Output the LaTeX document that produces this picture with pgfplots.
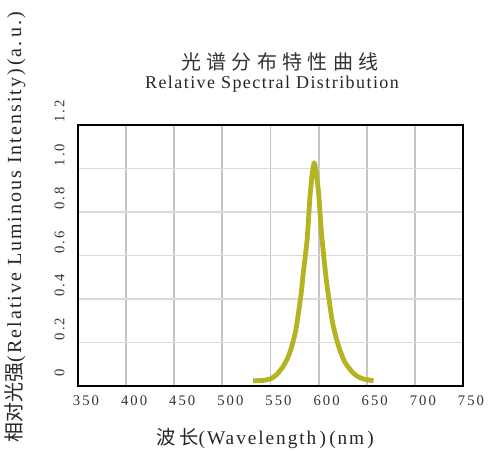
\documentclass[border=0pt]{standalone}
\usepackage{pgfplots}
\pgfplotsset{compat=1.18}
\usepackage{fontspec}
\setmainfont{Liberation Serif}
\newfontfamily\cjk{Noto Sans CJK SC}
\newfontfamily\wide[LetterSpace=8]{Liberation Serif}
\newfontfamily\wider[LetterSpace=10]{Liberation Serif}
\newfontfamily\tickfont[LetterSpace=14]{Liberation Serif}
\definecolor{spec}{RGB}{180,180,35}
\definecolor{vgrid}{RGB}{196,196,196}
\definecolor{hgrid}{RGB}{218,218,218}

\begin{document}
\begin{tikzpicture}[x=0.75pt,y=0.75pt]
\begin{axis}[
    at={(58.5pt,48pt)}, anchor=south west,
    scale only axis,
    width=288.75pt, height=195.75pt,
    xmin=350, xmax=750, ymin=0, ymax=1.2,
    xtick={350,400,...,750},
    ytick={0,0.2,...,1.2},
    yticklabels={0,0.2,0.4,0.6,0.8,1.0,1.2},
    major tick length=0pt,
    axis line style={line width=1.5pt, black},
    xmajorgrids, ymajorgrids,
    x grid style={vgrid, line width=1.4pt},
    y grid style={hgrid, line width=1.4pt},
    /pgf/number format/assume math mode=true,
    ticklabel style={font=\tickfont\fontsize{11}{12}\selectfont, text=black!80},
    xticklabel style={yshift=-4pt, xshift=6pt},
    yticklabel style={rotate=90, anchor=south, xshift=10pt, yshift=6.5pt},
    clip=false,
]
\addplot[spec, line width=3.6pt, line join=round, smooth, tension=0.35] coordinates {
    (532,0.024) (543,0.026) (551,0.035) (557,0.055) (563,0.089) (568,0.13)
    (572,0.18) (576,0.25) (579,0.334) (582,0.43) (584,0.518) (588,0.671)
    (591,0.870) (593.5,0.98) (595.5,1.027) (597.5,0.98) (600,0.886)
    (603,0.702) (608,0.487) (614,0.303) (618,0.225) (622,0.166) (627,0.112)
    (633,0.074) (639,0.048) (646,0.033) (657,0.024)
};
\end{axis}
% titles and axis labels
\node[font=\cjk\fontsize{15}{17}\selectfont, text=black!80] at (280,388)
    {光\hspace{4pt}谱\hspace{4pt}分\hspace{4pt}布\hspace{4pt}特\hspace{4pt}性\hspace{4pt}曲\hspace{4pt}线};
\node[font=\wide\fontsize{13.5}{15}\selectfont, text=black!85] at (272,366) {Relative Spectral Distribution};
\node[font=\wider\fontsize{14.5}{16}\selectfont, text=black!85] at (265,12)
    {{\cjk 波\hspace{3pt}长}(Wavelength\,)\,(nm\,)};
\node[font=\wider\fontsize{15}{17}\selectfont, text=black!85, rotate=90, anchor=west] at (15,3)
    {{\cjk 相对光强}(Relative Luminous Intensity)\,(a.\,u.)};
\pgfresetboundingbox
\path (0,0) rectangle (496,450);
\end{tikzpicture}
\end{document}
